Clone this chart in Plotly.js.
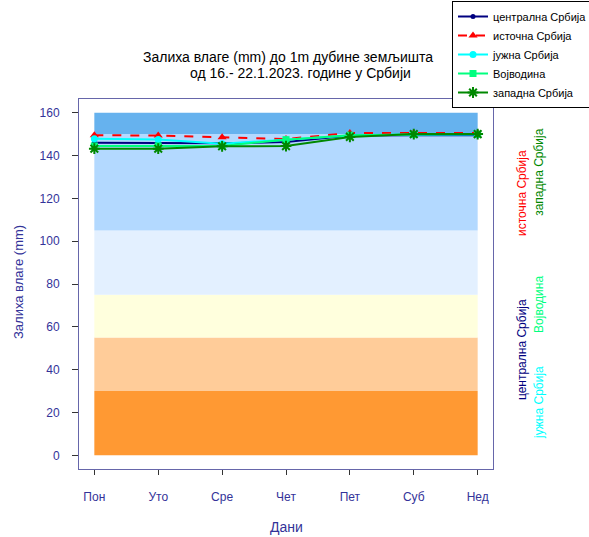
<!DOCTYPE html>
<html>
<head>
<meta charset="utf-8">
<script src="https://cdn.plot.ly/plotly-3.0.1.min.js"></script>
<style>html,body{margin:0;padding:0;background:#fff;}#chart{width:589px;height:537px;}</style>
</head>
<body>
<div id="chart"></div>
<script>
const days = ['Пон', 'Уто', 'Сре', 'Чет', 'Пет', 'Суб', 'Нед'];
const centralna = [146.0, 146.0, 145.7, 146.3, 149.3, 149.5, 149.5];
const istocna   = [149.5, 149.3, 148.5, 147.7, 150.5, 150.5, 150.5];
const juzna     = [147.8, 147.5, 145.5, 147.4, 149.3, 149.8, 149.8];
const vojvodina = [144.5, 144.5, 144.5, 147.4, 149.5, 149.8, 150.0];
const zapadna   = [143.2, 143.2, 144.3, 144.4, 148.7, 150.0, 150.0];
const seriesNames = ['централна Србија', 'источна Србија', 'јужна Србија', 'Војводина', 'западна Србија'];
const bandEdges = [0, 30, 55, 75, 105, 150, 160];
const bandColors = ['#FF9933', '#FFCC99', '#FFFFDD', '#E3F0FF', '#B3D9FF', '#66B2EE'];
const yTicks = [0, 20, 40, 60, 80, 100, 120, 140, 160];

const FONT = 'Arial, "Liberation Sans", sans-serif';
const AX = '#333399';

const styles = [
  {color: '#000080', dash: 'solid', symbol: 'circle', size: 5},
  {color: '#FF0000', dash: 'dash', symbol: 'triangle-up', size: 8},
  {color: '#00FFFF', dash: 'solid', symbol: 'circle', size: 7},
  {color: '#00FF7F', dash: 'solid', symbol: 'square', size: 7},
  {color: '#008800', dash: 'solid', symbol: 'asterisk-open', size: 9}
];
const values = [centralna, istocna, juzna, vojvodina, zapadna];

const traces = values.map((v, i) => ({
  type: 'scatter', mode: 'lines+markers', x: days, y: v, name: seriesNames[i],
  line: {color: styles[i].color, width: 2, dash: styles[i].dash},
  marker: {color: styles[i].color, symbol: styles[i].symbol, size: styles[i].size,
           line: {color: styles[i].color, width: styles[i].symbol === 'asterisk-open' ? 2 : 0}}
}));

const shapes = bandColors.map((c, i) => ({
  type: 'rect', layer: 'below', xref: 'x', yref: 'y',
  x0: 0, x1: days.length - 1, y0: bandEdges[i], y1: bandEdges[i + 1],
  fillcolor: c, line: {width: 0}
}));

const sideLabels = [
  {text: 'централна Србија', x: 1.070, y: 0.324, color: '#000080'},
  {text: 'јужна Србија', x: 1.111, y: 0.181, color: '#00FFFF'},
  {text: 'Војводина', x: 1.111, y: 0.446, color: '#00FF7F'},
  {text: 'источна Србија', x: 1.070, y: 0.746, color: '#FF0000'},
  {text: 'западна Србија', x: 1.111, y: 0.803, color: '#008800'}
];

const annotations = sideLabels.map(s => ({
  text: s.text, xref: 'paper', yref: 'paper', x: s.x, y: s.y, textangle: -90,
  showarrow: false, xanchor: 'center', yanchor: 'middle',
  font: {family: FONT, size: 12, color: s.color}
}));
annotations.push(
  {text: 'Залиха влаге (mm) до 1m дубине земљишта', xref: 'paper', yref: 'paper',
   x: (141 - 79) / 414, y: (469 - 57) / 370, xanchor: 'left', yanchor: 'middle', showarrow: false,
   font: {family: FONT, size: 14, color: '#000'}},
  {text: 'од 16.- 22.1.2023. године у Србији', xref: 'paper', yref: 'paper',
   x: (188 - 79) / 414, y: (469 - 73) / 370, xanchor: 'left', yanchor: 'middle', showarrow: false,
   font: {family: FONT, size: 14, color: '#000'}},
  {text: 'Дани', xref: 'paper', yref: 'paper', x: 0.5, y: (469 - 527) / 370,
   xanchor: 'center', yanchor: 'middle', showarrow: false,
   font: {family: FONT, size: 14, color: AX}},
  {text: 'Залиха влаге (mm)', xref: 'paper', yref: 'paper', x: (18 - 79) / 414, y: (469 - 282) / 370,
   xanchor: 'center', yanchor: 'middle', showarrow: false, textangle: -90,
   font: {family: FONT, size: 13, color: AX}}
);

const layout = {
  width: 589, height: 537,
  margin: {l: 79, r: 96, t: 99, b: 68, autoexpand: false},
  paper_bgcolor: '#fff', plot_bgcolor: '#fff',
  showlegend: true,
  legend: {x: (452 - 79) / 414, y: (469 - 1) / 370, xanchor: 'left', yanchor: 'top',
           bgcolor: '#fff', bordercolor: '#000', borderwidth: 1,
           font: {family: FONT, size: 11, color: '#000'}, tracegroupgap: 0},
  xaxis: {type: 'category', range: [-0.24, 6.24], showgrid: false, zeroline: false,
          showline: true, mirror: true, linecolor: '#6666AA', linewidth: 1,
          ticks: 'outside', ticklen: 5, tickcolor: '#333', ticklabelstandoff: 12,
          tickfont: {family: FONT, size: 12, color: AX}, fixedrange: true},
  yaxis: {range: [-6.4, 166.4], tickvals: yTicks, showgrid: false, zeroline: false,
          showline: true, mirror: true, linecolor: '#6666AA', linewidth: 1,
          ticks: 'outside', ticklen: 6, tickcolor: '#333', ticklabelstandoff: 10,
          tickfont: {family: FONT, size: 12, color: AX}, fixedrange: true},
  shapes: shapes,
  annotations: annotations
};

Plotly.newPlot('chart', traces, layout, {displayModeBar: false, staticPlot: true});
</script>
</body>
</html>
